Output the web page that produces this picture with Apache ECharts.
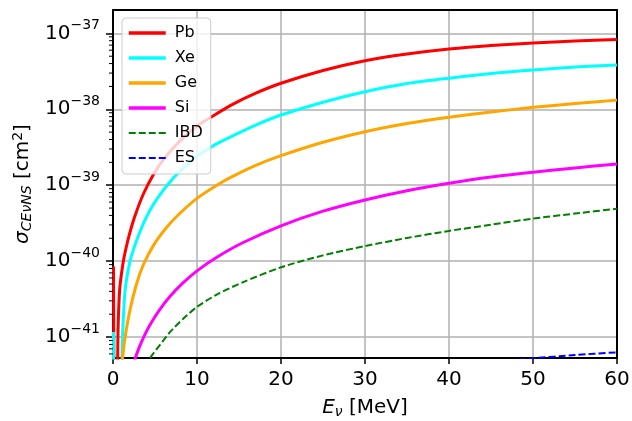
<!DOCTYPE html>
<html>
<head>
<meta charset="utf-8">
<script src="https://cdn.jsdelivr.net/npm/echarts@6/dist/echarts.min.js"></script>
<style>
html,body{margin:0;padding:0;background:#fff;}
#c{width:632px;height:421px;}
</style>
</head>
<body>
<div id="c"></div>
<script>
// ---- data ----
const xTicks = [0, 10, 20, 30, 40, 50, 60];
const yMin = 5.3e-42, yMax = 2.03e-37;

const seriesNames = ['Pb', 'Xe', 'Ge', 'Si', 'IBD', 'ES'];

const pbData = [
  [0.06, 8.5e-41], [0.2, 1e-42], [0.45, 1e-42], [0.6, 1.2e-41], [0.8, 4.3e-41],
  [1.2, 9.5e-41], [1.5, 1.4e-40], [2, 2.35e-40], [2.6, 3.9e-40], [3.6, 7.6e-40],
  [4.8, 1.37e-39], [6, 2.17e-39], [8, 3.86e-39], [10, 6.0e-39], [12, 8.3e-39],
  [14.3, 1.17e-38], [17, 1.63e-38], [20, 2.2e-38], [25, 3.24e-38], [30, 4.36e-38],
  [35, 5.33e-38], [40, 6.2e-38], [45, 6.9e-38], [50, 7.45e-38], [55, 7.9e-38], [60, 8.3e-38]
];
const xeData = [
  [0.06, 1.17e-41], [0.2, 1e-42], [0.9, 1e-42], [1.1, 8e-42], [1.43, 4.0e-41],
  [2.03, 1.0e-40], [2.8, 1.85e-40], [3.6, 3.1e-40], [4.5, 4.9e-40], [5.56, 7.4e-40],
  [6.7, 1.08e-39], [7.95, 1.52e-39], [10, 2.4e-39], [12, 3.35e-39], [14.3, 4.5e-39],
  [17, 6.2e-39], [20, 8.4e-39], [25, 1.24e-38], [30, 1.7e-38], [35, 2.18e-38],
  [40, 2.57e-38], [45, 2.96e-38], [50, 3.29e-38], [55, 3.6e-38], [60, 3.83e-38]
];
const geData = [
  [1.0, 2e-42], [1.15, 5.3e-42], [1.5, 1.1e-41], [2.03, 2.3e-41], [2.8, 5.0e-41],
  [3.6, 8.9e-41], [4.8, 1.6e-40], [6.2, 2.63e-40], [7.6, 3.9e-40], [10, 6.7e-40],
  [12.75, 1.06e-39], [14.3, 1.32e-39], [17, 1.83e-39], [20, 2.45e-39], [25, 3.68e-39],
  [30, 5.07e-39], [35, 6.5e-39], [40, 7.85e-39], [45, 9.2e-39], [50, 1.06e-38],
  [55, 1.19e-38], [60, 1.32e-38]
];
const siData = [
  [2.4, 3.8e-42], [2.62, 5.1e-42], [3.1, 7.2e-42], [3.6, 9.7e-42], [4.41, 1.45e-41],
  [5.5, 2.25e-41], [6.8, 3.44e-41], [8.3, 5.13e-41], [10, 7.45e-41], [12.5, 1.15e-40],
  [15.5, 1.76e-40], [20, 2.92e-40], [25, 4.55e-40], [30, 6.4e-40], [35, 8.47e-40],
  [40, 1.06e-39], [45, 1.28e-39], [50, 1.48e-39], [55, 1.69e-39], [60, 1.9e-39]
];
const ibdData = [
  [4.0, 4e-42], [4.41, 5.3e-42], [5.6, 7.9e-42], [6.8, 1.17e-41], [8.3, 1.72e-41],
  [10, 2.5e-41], [12.5, 3.7e-41], [15.5, 5.3e-41], [20, 8.3e-41], [25, 1.19e-40],
  [30, 1.58e-40], [35, 2.02e-40], [40, 2.5e-40], [45, 3.02e-40], [50, 3.63e-40],
  [55, 4.23e-40], [60, 4.9e-40]
];
const esData = [
  [40, 4.2e-42], [45, 4.7e-42], [50, 5.25e-42], [55, 5.8e-42], [60, 6.3e-42]
];
const minorTickValues = [];
for (let n = -42; n <= -38; n++) {
  for (let k = 2; k <= 9; k++) minorTickValues.push(k * Math.pow(10, n));
}

// ---- chart ----
const FONT = 'DejaVu Sans';
const chart = echarts.init(document.getElementById('c'), null, {renderer: 'canvas'});

function supLabel(v) {
  const e = Math.log10(v);
  const r = Math.round(e);
  if (Math.abs(e - r) > 1e-6) return '';
  return '{b|10}{s|\u2212' + (-r) + '}';
}

const solid = (name, color, data) => ({
  name, type: 'line', data, symbol: 'none', showSymbol: false,
  smooth: 0.25, clip: true,
  lineStyle: {color, width: 3, type: 'solid'}, itemStyle: {color},
  xAxisIndex: 0, yAxisIndex: 0
});
const dashed = (name, color, data) => ({
  name, type: 'line', data, symbol: 'none', showSymbol: false,
  smooth: 0.25, clip: true,
  lineStyle: {color, width: 2, type: [7, 3]}, itemStyle: {color},
  xAxisIndex: 0, yAxisIndex: 0
});

const legendItems = seriesNames.map((n, i) => ({
  name: n, lineStyle: {width: i < 4 ? 3.5 : 2.2}
}));

const option = {
  animation: false,
  backgroundColor: '#fff',
  textStyle: {fontFamily: FONT},
  grid: {left: 113, right: 15, top: 10, bottom: 63, containLabel: false, outerBoundsMode: 'none'},
  legend: {
    data: legendItems, orient: 'vertical', left: 122, top: 18,
    padding: [7, 8, 8, 5], itemWidth: 37, itemHeight: 14, itemGap: 9,
    backgroundColor: 'rgba(255,255,255,0.8)', borderColor: '#cccccc',
    borderWidth: 1, borderRadius: 4,
    itemStyle: {opacity: 0},
    textStyle: {fontFamily: FONT, fontSize: 16, color: '#000', padding: [0, 0, 0, 4]}
  },
  xAxis: [{
    type: 'value', min: 0, max: 60, interval: 10,
    name: '{i|E}{isub|\u03bd}{n| [MeV]}', nameLocation: 'middle', nameGap: 39,
    nameTextStyle: {
      rich: {
        i: {fontFamily: FONT, fontStyle: 'italic', fontSize: 20, color: '#000'},
        isub: {fontFamily: FONT, fontStyle: 'italic', fontSize: 14, color: '#000', padding: [8, 0, 0, 0]},
        n: {fontFamily: FONT, fontSize: 20, color: '#000'}
      }
    },
    axisLine: {show: true, onZero: false, lineStyle: {color: '#000', width: 2}},
    axisTick: {show: true, inside: false, length: 6, lineStyle: {color: '#000', width: 1.5}},
    axisLabel: {fontFamily: FONT, fontSize: 20, color: '#000', margin: 12,
      formatter: v => xTicks.includes(v) ? String(v) : ''},
    splitLine: {show: true, showMinLine: false, showMaxLine: false, lineStyle: {color: '#b0b0b0', width: 1.5}}
  }, {
    type: 'value', min: 0, max: 60, position: 'top',
    axisLine: {show: true, onZero: false, lineStyle: {color: '#000', width: 2}},
    axisTick: {show: false}, axisLabel: {show: false}, splitLine: {show: false}
  }],
  yAxis: [{
    type: 'log', logBase: 10, min: yMin, max: yMax,
    name: '{i|\u03c3}{isub|CE\u03bdNS}{n| [cm}{sup|2}{n|]}',
    nameLocation: 'middle', nameRotate: 90, nameGap: 72,
    nameTextStyle: {
      rich: {
        i: {fontFamily: FONT, fontStyle: 'italic', fontSize: 20, color: '#000'},
        isub: {fontFamily: FONT, fontStyle: 'italic', fontSize: 14, color: '#000', padding: [8, 0, 0, 0]},
        n: {fontFamily: FONT, fontSize: 20, color: '#000'},
        sup: {fontFamily: FONT, fontSize: 14, color: '#000', padding: [0, 0, 10, 0]}
      }
    },
    axisLine: {show: true, onZero: false, lineStyle: {color: '#000', width: 2}},
    axisTick: {show: true, inside: false, length: 7, lineStyle: {color: '#000', width: 1.5}},
    axisLabel: {
      margin: 13, showMinLabel: false, showMaxLabel: false,
      formatter: supLabel,
      rich: {
        b: {fontFamily: FONT, fontSize: 20, color: '#000'},
        s: {fontFamily: FONT, fontSize: 14, color: '#000', padding: [0, 0, 16, 0]}
      }
    },
    splitLine: {show: true, showMinLine: false, showMaxLine: false, lineStyle: {color: '#b0b0b0', width: 1.5}}
  }, {
    type: 'value', min: 0, max: 1, position: 'right',
    axisLine: {show: true, onZero: false, lineStyle: {color: '#000', width: 2}},
    axisTick: {show: false}, axisLabel: {show: false}, splitLine: {show: false}
  }],
  series: [
    solid('Pb', '#ff0000', pbData),
    solid('Xe', '#00ffff', xeData),
    solid('Ge', '#ffa500', geData),
    solid('Si', '#ff00ff', siData),
    dashed('IBD', '#008000', ibdData),
    dashed('ES', '#0000ff', esData),
    {
      type: 'custom', silent: true, clip: false, z: 5,
      xAxisIndex: 0, yAxisIndex: 0,
      data: minorTickValues.map(v => [0, v]),
      renderItem: (params, api) => {
        const v = api.value(1);
        if (v < yMin || v > yMax) return null;
        const p = api.coord([0, v]);
        return {type: 'line', shape: {x1: p[0] - 4, y1: p[1], x2: p[0], y2: p[1]},
          style: {stroke: '#000', lineWidth: 1}};
      }
    }
  ]
};
chart.setOption(option);
</script>
</body>
</html>
